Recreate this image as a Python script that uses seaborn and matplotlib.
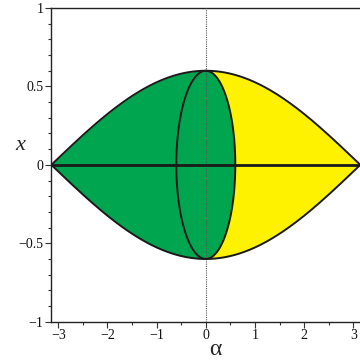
import matplotlib
matplotlib.use("Agg")
import matplotlib.pyplot as plt
import seaborn as sns
import pandas as pd
import numpy as np

# curve parameters
amplitude = 0.6          # height of the lens at alpha = 0
ellipse_a = 0.6          # ellipse half-width along alpha
ellipse_b = 0.6          # ellipse half-height along x
x_ticks = [-3, -2, -1, 0, 1, 2, 3]
x_tick_labels = ["\u22123", "\u22122", "\u22121", "0", "1", "2", "3"]
y_ticks = [-1, -0.5, 0, 0.5, 1]
y_tick_labels = ["\u22121", "\u22120.5", "0", "0.5", "1"]

green = "#00a550"
yellow = "#fff200"
edge = "#1a1a1a"


def lens(alpha):
    return amplitude * np.cos(alpha / 2)


def main():
    sns.set_style("ticks")
    plt.rcParams["font.family"] = ["Liberation Serif", "DejaVu Serif"]

    fig = plt.figure(figsize=(3.6, 3.61), dpi=100)
    ax = fig.add_axes([51.3 / 360, 39.3 / 361, 309 / 360, 313.7 / 361])

    alpha = np.linspace(-np.pi, np.pi, 400)
    left = alpha[alpha <= 0]
    right = alpha[alpha >= 0]
    t = np.linspace(0, 2 * np.pi, 400)

    # fills: yellow right half, green left half, green ellipse on top
    ax.fill_between(right, -lens(right), lens(right), color=yellow, lw=0, zorder=1)
    ax.fill_between(left, -lens(left), lens(left), color=green, lw=0, zorder=1)
    ax.fill(ellipse_a * np.cos(t), ellipse_b * np.sin(t), color=green, lw=0, zorder=2)

    ax.axvline(0, color="#555555", ls=(0, (1, 1)), lw=0.8, zorder=3)

    curves = pd.concat([
        pd.DataFrame({"a": alpha, "x": lens(alpha), "part": "upper"}),
        pd.DataFrame({"a": alpha, "x": -lens(alpha), "part": "lower"}),
        pd.DataFrame({"a": ellipse_a * np.cos(t), "x": ellipse_b * np.sin(t), "part": "ellipse"}),
    ])
    sns.lineplot(data=curves, x="a", y="x", units="part", estimator=None, sort=False,
                 color=edge, lw=1.4, ax=ax, zorder=4)
    # the horizontal axis line through the lens is drawn a bit heavier
    axis_line = pd.DataFrame({"a": [-np.pi, np.pi], "x": [0, 0]})
    sns.lineplot(data=axis_line, x="a", y="x", color=edge, lw=2.0, ax=ax, zorder=4)

    ax.set_xlim(-np.pi, np.pi)
    ax.set_ylim(-1, 1)
    ax.set_xticks(x_ticks)
    ax.set_xticklabels(x_tick_labels)
    ax.set_xticks(np.arange(-3, 3.01, 0.5), minor=True)
    ax.set_yticks(y_ticks)
    ax.set_yticklabels(y_tick_labels)
    ax.set_yticks(np.arange(-1, 1.01, 0.1), minor=True)
    ax.tick_params(which="major", direction="out", length=4, width=0.8, labelsize=10,
                   pad=1.5, color="#333333", labelcolor="#111111")
    ax.tick_params(which="minor", direction="out", length=2.5, width=0.8, color="#333333")
    ax.set_xlabel("")
    ax.set_ylabel("")

    for side in ["left", "bottom", "top"]:
        ax.spines[side].set_color("#222222")
        ax.spines[side].set_linewidth(1.0)
    ax.spines["right"].set_visible(False)

    ax.set_xlabel("\u03b1", fontsize=17)
    ax.xaxis.set_label_coords(0.53, -0.055)
    ax.set_ylabel("x", fontsize=16, style="italic", rotation=0)
    ax.yaxis.set_label_coords(-0.1, 0.53)

    fig.savefig("out.png", dpi=100)


if __name__ == "__main__":
    main()
